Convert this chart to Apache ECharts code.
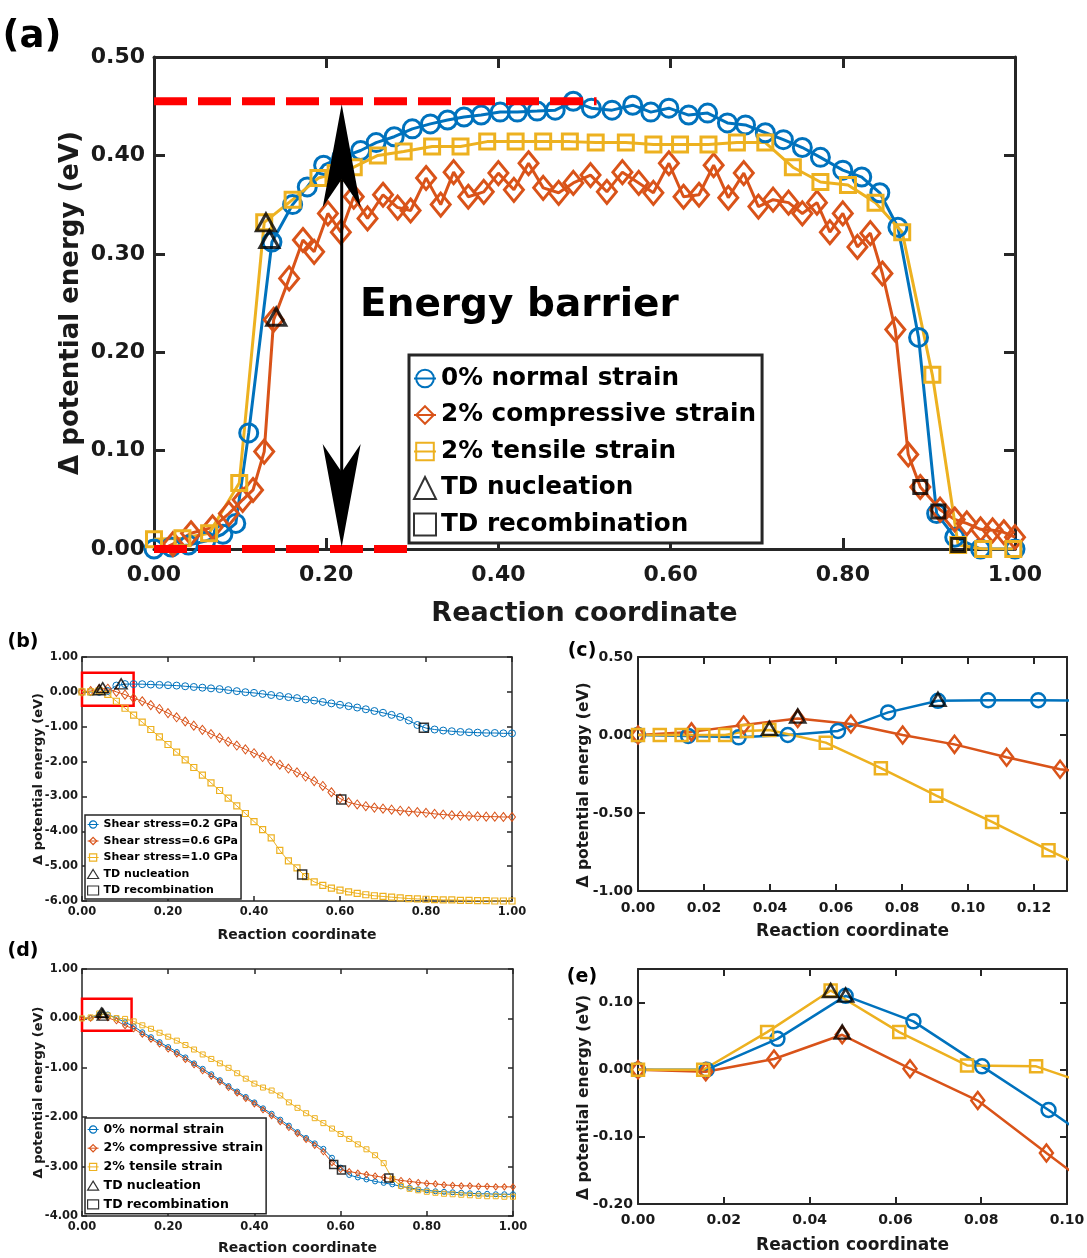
<!DOCTYPE html>
<html>
<head>
<meta charset="utf-8">
<script src="https://cdn.jsdelivr.net/npm/echarts@6/dist/echarts.min.js"></script>
<style>
  html, body { margin: 0; padding: 0; background: #fff; }
  #chart { width: 1087px; height: 1258px; }
</style>
</head>
<body>
<div id="chart"></div>
<script>
// ===== panel (a): energy path under normal strain =====
const aNormal = [[0,0],[0.02,0.002],[0.04,0.004],[0.06,0.008],[0.08,0.015],[0.095,0.026],[0.110,0.118],[0.137,0.312],[0.161,0.350],[0.178,0.368],[0.197,0.390],[0.218,0.398],[0.240,0.405],[0.258,0.413],[0.279,0.419],[0.300,0.427],[0.321,0.432],[0.341,0.436],[0.360,0.439],[0.380,0.441],[0.402,0.444],[0.422,0.444],[0.445,0.445],[0.466,0.446],[0.487,0.455],[0.508,0.448],[0.532,0.446],[0.556,0.451],[0.577,0.444],[0.598,0.448],[0.621,0.441],[0.643,0.443],[0.666,0.433],[0.687,0.431],[0.710,0.423],[0.731,0.416],[0.753,0.408],[0.774,0.398],[0.800,0.385],[0.822,0.378],[0.843,0.362],[0.864,0.327],[0.888,0.215],[0.909,0.036],[0.930,0.012],[0.960,0.0],[1.0,0.0]];
const aCompressive = [[0,-0.004],[0.022,0.005],[0.043,0.016],[0.068,0.022],[0.087,0.036],[0.103,0.05],[0.115,0.06],[0.128,0.099],[0.139,0.233],[0.157,0.275],[0.173,0.314],[0.186,0.302],[0.202,0.341],[0.217,0.322],[0.232,0.358],[0.248,0.336],[0.266,0.36],[0.283,0.347],[0.298,0.344],[0.316,0.377],[0.333,0.35],[0.348,0.383],[0.365,0.358],[0.383,0.363],[0.40,0.382],[0.418,0.365],[0.435,0.392],[0.452,0.367],[0.470,0.362],[0.487,0.372],[0.507,0.38],[0.526,0.363],[0.544,0.383],[0.563,0.372],[0.580,0.362],[0.598,0.392],[0.615,0.358],[0.633,0.36],[0.650,0.39],[0.667,0.357],[0.685,0.382],[0.702,0.348],[0.719,0.355],[0.737,0.352],[0.753,0.341],[0.770,0.352],[0.785,0.322],[0.800,0.341],[0.817,0.307],[0.832,0.321],[0.846,0.280],[0.861,0.223],[0.876,0.096],[0.890,0.063],[0.913,0.040],[0.930,0.030],[0.944,0.026],[0.960,0.020],[0.974,0.019],[0.987,0.017],[1.0,0.012]];
const aTensile = [[0,0.010],[0.033,0.011],[0.064,0.016],[0.099,0.067],[0.128,0.332],[0.161,0.355],[0.191,0.377],[0.211,0.382],[0.232,0.388],[0.260,0.400],[0.290,0.404],[0.323,0.409],[0.356,0.409],[0.387,0.414],[0.420,0.414],[0.452,0.414],[0.483,0.414],[0.513,0.413],[0.548,0.413],[0.580,0.411],[0.611,0.411],[0.644,0.411],[0.677,0.413],[0.710,0.413],[0.742,0.388],[0.774,0.373],[0.806,0.370],[0.838,0.352],[0.869,0.322],[0.904,0.177],[0.934,0.004],[0.963,0.0],[0.998,0.0]];
const aNucleation = [[0.130,0.332],[0.134,0.315],[0.142,0.236]];
const aRecombination = [[0.890,0.063],[0.911,0.038],[0.934,0.004]];
const aBarrierTop = [[0,0.455],[0.514,0.455]];
const aBarrierBottom = [[0,0],[0.295,0]];
const aArrow = [[0.218, 0.452, 0.002]];

// ===== panels (b) and (d): full path, sampled every 0.02 =====
const stepX = [0,0.02,0.04,0.06,0.08,0.1,0.12,0.14,0.16,0.18,0.2,0.22,0.24,0.26,0.28,0.3,0.32,0.34,0.36,0.38,0.4,0.42,0.44,0.46,0.48,0.5,0.52,0.54,0.56,0.58,0.6,0.62,0.64,0.66,0.68,0.7,0.72,0.74,0.76,0.78,0.8,0.82,0.84,0.86,0.88,0.9,0.92,0.94,0.96,0.98,1];
const bShear02 = [0,-0.005,0,0.025,0.18,0.222,0.223,0.22,0.21,0.2,0.19,0.18,0.16,0.14,0.12,0.1,0.08,0.05,0.02,-0.01,-0.03,-0.06,-0.09,-0.12,-0.15,-0.18,-0.22,-0.25,-0.29,-0.33,-0.37,-0.41,-0.45,-0.5,-0.55,-0.6,-0.66,-0.72,-0.82,-0.95,-1.04,-1.08,-1.11,-1.13,-1.15,-1.16,-1.17,-1.18,-1.18,-1.19,-1.19];
const bShear06 = [0,0.025,0.08,0.09,0,-0.08,-0.18,-0.27,-0.38,-0.49,-0.61,-0.73,-0.85,-0.97,-1.09,-1.21,-1.32,-1.43,-1.54,-1.65,-1.76,-1.87,-1.98,-2.09,-2.2,-2.31,-2.43,-2.56,-2.7,-2.88,-3.06,-3.17,-3.23,-3.28,-3.32,-3.35,-3.38,-3.41,-3.43,-3.45,-3.47,-3.5,-3.52,-3.54,-3.55,-3.56,-3.57,-3.58,-3.58,-3.59,-3.59];
const bShear10 = [0,0,0.03,-0.07,-0.27,-0.47,-0.67,-0.87,-1.08,-1.29,-1.51,-1.73,-1.95,-2.17,-2.39,-2.61,-2.83,-3.05,-3.27,-3.49,-3.72,-3.95,-4.19,-4.55,-4.85,-5.05,-5.3,-5.45,-5.55,-5.63,-5.69,-5.74,-5.78,-5.82,-5.85,-5.87,-5.89,-5.91,-5.93,-5.94,-5.95,-5.96,-5.97,-5.97,-5.98,-5.98,-5.99,-5.99,-6,-6,-6];
const bNucleation = [[0.040,0.06],[0.048,0.12],[0.091,0.23]];
const bRecombination = [[0.795,-1.03],[0.603,-3.09],[0.512,-5.24]];
const bZoomBox = [[0, 0.55], [0.12, -0.4]];

const dNormal = [0,0.01,0.08,0.08,0.005,-0.08,-0.16,-0.28,-0.38,-0.48,-0.58,-0.68,-0.79,-0.91,-1.02,-1.13,-1.25,-1.37,-1.48,-1.59,-1.7,-1.82,-1.93,-2.05,-2.17,-2.3,-2.42,-2.53,-2.64,-2.82,-3.02,-3.17,-3.22,-3.26,-3.3,-3.33,-3.36,-3.4,-3.43,-3.46,-3.48,-3.5,-3.51,-3.52,-3.53,-3.54,-3.55,-3.55,-3.56,-3.56,-3.56];
const dCompressive = [0,0.005,0.035,0.012,-0.048,-0.147,-0.21,-0.32,-0.42,-0.52,-0.62,-0.72,-0.83,-0.94,-1.06,-1.17,-1.28,-1.4,-1.51,-1.62,-1.73,-1.85,-1.97,-2.09,-2.21,-2.33,-2.45,-2.57,-2.7,-2.92,-3.06,-3.1,-3.13,-3.16,-3.19,-3.22,-3.25,-3.28,-3.3,-3.32,-3.34,-3.35,-3.37,-3.38,-3.39,-3.39,-3.4,-3.4,-3.41,-3.41,-3.41];
const dTensile = [0,0.02,0.1,0.06,0.006,-0.01,-0.06,-0.14,-0.21,-0.29,-0.37,-0.45,-0.54,-0.63,-0.73,-0.82,-0.91,-1,-1.11,-1.22,-1.32,-1.4,-1.46,-1.56,-1.7,-1.81,-1.92,-2.02,-2.12,-2.23,-2.34,-2.44,-2.55,-2.65,-2.77,-2.93,-3.25,-3.39,-3.45,-3.48,-3.51,-3.53,-3.55,-3.56,-3.57,-3.58,-3.59,-3.6,-3.6,-3.61,-3.61];
const dNucleation = [[0.045,0.12],[0.048,0.11],[0.048,0.055]];
const dRecombination = [[0.584,-2.96],[0.602,-3.07],[0.712,-3.23]];
const dZoomBox = [[0, 0.4], [0.115, -0.25]];

// ===== panel (c): zoom of (b) =====
const cShear02 = [[0,0],[0.0152,-0.006],[0.0305,-0.015],[0.0454,0],[0.0606,0.026],[0.0758,0.145],[0.0909,0.219],[0.1061,0.223],[0.1213,0.223],[0.1364,0.219]];
const cShear06 = [[0,0],[0.0162,0.02],[0.032,0.064],[0.0484,0.106],[0.0645,0.07],[0.0802,0.0],[0.0959,-0.06],[0.1117,-0.143],[0.1279,-0.219],[0.1437,-0.26]];
const cShear10 = [[0,0],[0.0066,0],[0.0132,0],[0.0198,0],[0.0264,0],[0.033,0.026],[0.0398,0.032],[0.0569,-0.049],[0.0736,-0.213],[0.0904,-0.389],[0.1073,-0.557],[0.1244,-0.738],[0.1415,-0.91]];
const cNucleation = [[0.0398,0.043],[0.0484,0.121],[0.0909,0.228]];
const cTicksX = [0,0.02,0.04,0.06,0.08,0.1,0.12];

// ===== panel (e): zoom of (d) =====
const eNormal = [[0,0],[0.016,0],[0.0325,0.046],[0.0484,0.110],[0.0642,0.072],[0.0802,0.005],[0.0957,-0.060],[0.1115,-0.13]];
const eCompressive = [[0,0],[0.0158,-0.003],[0.0317,0.016],[0.0476,0.052],[0.0634,0.0015],[0.0792,-0.046],[0.0952,-0.124],[0.111,-0.2]];
const eTensile = [[0,0],[0.0152,0],[0.0301,0.056],[0.0449,0.118],[0.0609,0.056],[0.0767,0.0064],[0.0928,0.005],[0.109,-0.03]];
const eNucleation = [[0.0449,0.118],[0.0484,0.111],[0.0476,0.056]];
const eTicksY = [-0.2,-0.1,0,0.1];

const FONT = "DejaVu Sans";
const BLUE = "#0072BD", ORANGE = "#D95319", YELLOW = "#EDB120";
const INK = "#262626";
const NONE = "rgba(0,0,0,0)";
const YNAME = "Δ potential energy (eV)";
const XNAME = "Reaction coordinate";

const zip = (xs, ys) => ys.map((y, i) => [xs[i], y]);

const grids = [
  { left: 154, top: 57, width: 861, height: 492 },  // a
  { left: 82, top: 657, width: 430, height: 244 },  // b
  { left: 638, top: 657, width: 429, height: 234 }, // c
  { left: 82, top: 969, width: 431, height: 247 },  // d
  { left: 638, top: 969, width: 429, height: 235 }, // e
].map((g) => ({ ...g, outerBoundsMode: "none" }));

// main axis (labels, name) plus a mirror on the far side with inward ticks only
function axes(dim, grid, s) {
  const list = [];
  [true, false].forEach((main) => {
    const ax = {
      type: "value",
      gridIndex: grid,
      min: s.min,
      max: s.max,
      position: dim === "x" ? (main ? "bottom" : "top") : (main ? "left" : "right"),
      axisLine: { onZero: false, lineStyle: { color: INK, width: s.lw } },
      axisTick: { inside: true, length: s.tick, lineStyle: { color: INK, width: s.lw } },
      axisLabel: { show: main, margin: s.margin, fontSize: s.fs, fontWeight: "bold", fontFamily: FONT, color: "#1a1a1a", formatter: (v) => v.toFixed(2) },
      splitLine: { show: false },
    };
    if (s.interval) ax.interval = s.interval;
    if (s.ticks) {
      ax.axisTick.customValues = s.ticks;
      ax.axisLabel.customValues = s.ticks;
    }
    if (main) {
      ax.name = dim === "x" ? XNAME : YNAME;
      ax.nameLocation = "middle";
      ax.nameGap = s.nameGap;
      ax.nameRotate = dim === "y" ? 90 : 0;
      ax.nameMoveOverlap = false;
      ax.nameTextStyle = { fontSize: s.nameFs, fontWeight: "bold", fontFamily: FONT, color: "#1a1a1a", padding: s.namePad || 0 };
    }
    list.push(ax);
  });
  return list;
}

const xAxis = [
  ...axes("x", 0, { min: 0, max: 1, interval: 0.2, lw: 3, tick: 11, fs: 22, margin: 15, nameFs: 27, nameGap: 51 }),
  ...axes("x", 1, { min: 0, max: 1, interval: 0.2, lw: 1.5, tick: 5, fs: 11.5, margin: 5, nameFs: 14, nameGap: 27 }),
  ...axes("x", 2, { min: 0, max: 0.13, ticks: cTicksX, lw: 2, tick: 7, fs: 14, margin: 10, nameFs: 17, nameGap: 32 }),
  ...axes("x", 3, { min: 0, max: 1, interval: 0.2, lw: 1.5, tick: 5, fs: 11.5, margin: 5, nameFs: 14, nameGap: 25 }),
  ...axes("x", 4, { min: 0, max: 0.1, interval: 0.02, lw: 2, tick: 7, fs: 14, margin: 9, nameFs: 17, nameGap: 33 }),
];
const yAxis = [
  ...axes("y", 0, { min: 0, max: 0.5, interval: 0.1, lw: 3, tick: 11, fs: 22, margin: 9, nameFs: 26, nameGap: 70 }),
  ...axes("y", 1, { min: -6, max: 1, interval: 1, lw: 1.5, tick: 5, fs: 11.5, margin: 4, nameFs: 13, nameGap: 37 }),
  ...axes("y", 2, { min: -1, max: 0.5, interval: 0.5, lw: 2, tick: 7, fs: 14, margin: 5, nameFs: 15.5, nameGap: 46, namePad: [0, 22, 0, 0] }),
  ...axes("y", 3, { min: -4, max: 1, interval: 1, lw: 1.5, tick: 5, fs: 11.5, margin: 4, nameFs: 13, nameGap: 37 }),
  ...axes("y", 4, { min: -0.2, max: 0.15, ticks: eTicksY, lw: 2, tick: 7, fs: 14, margin: 5, nameFs: 15.5, nameGap: 46, namePad: [0, 22, 0, 0] }),
];

function curve(name, data, grid, color, symbol, size, lw, bw) {
  return {
    type: "line", name, data, xAxisIndex: grid * 2, yAxisIndex: grid * 2,
    symbol, symbolSize: size, showAllSymbol: true, clip: true, z: 3,
    lineStyle: { color, width: lw },
    itemStyle: { color: NONE, borderColor: color, borderWidth: bw },
    emphasis: { disabled: true }, silent: true,
  };
}
function marks(name, data, grid, symbol, size, bw) {
  return {
    type: "scatter", name, data, xAxisIndex: grid * 2, yAxisIndex: grid * 2,
    symbol, symbolSize: size, z: 5, silent: true,
    itemStyle: { color: NONE, borderColor: "#000", borderWidth: bw },
    emphasis: { disabled: true },
  };
}
function zoomBox(box) {
  return {
    silent: true,
    itemStyle: { color: NONE, borderColor: "#FF0000", borderWidth: 2.5 },
    label: { show: false },
    data: [[{ coord: box[0] }, { coord: box[1] }]],
  };
}
function dashed(data) {
  return {
    type: "line", data, xAxisIndex: 0, yAxisIndex: 0, symbol: "none", clip: false, z: 6, silent: true,
    lineStyle: { color: "#FF0000", width: 8, type: [33, 11] },
  };
}

// double-headed arrow for the barrier height
function renderArrow(params, api) {
  const top = api.coord([api.value(0), api.value(1)]);
  const bot = api.coord([api.value(0), api.value(2)]);
  const x = top[0], hw = 19, hh = 103, notch = 75;
  return {
    type: "group",
    children: [
      { type: "line", shape: { x1: x, y1: top[1] + notch, x2: x, y2: bot[1] - notch }, style: { stroke: "#000", lineWidth: 3 } },
      { type: "polygon", shape: { points: [[x, top[1]], [x + hw, top[1] + hh], [x, top[1] + notch], [x - hw, top[1] + hh]] }, style: { fill: "#000" } },
      { type: "polygon", shape: { points: [[x, bot[1]], [x + hw, bot[1] - hh], [x, bot[1] - notch], [x - hw, bot[1] - hh]] }, style: { fill: "#000" } },
    ],
  };
}

const N0 = "0% normal strain", C2 = "2% compressive strain", T2 = "2% tensile strain";
const S02 = "Shear stress=0.2 GPa", S06 = "Shear stress=0.6 GPa", S10 = "Shear stress=1.0 GPa";
const NUC = "TD nucleation", REC = "TD recombination";

const bNucMarks = marks(NUC, bNucleation, 1, "triangle", [12, 10], 1.5);
bNucMarks.markArea = zoomBox(bZoomBox);
const dNucMarks = marks(NUC, dNucleation, 3, "triangle", [11, 9], 1.5);
dNucMarks.markArea = zoomBox(dZoomBox);

const series = [
  // (a)
  curve(N0, aNormal, 0, BLUE, "circle", 18, 3, 3),
  curve(C2, aCompressive, 0, ORANGE, "diamond", [19, 23], 3, 3),
  curve(T2, aTensile, 0, YELLOW, "rect", 15, 3, 3),
  marks(NUC, aNucleation, 0, "triangle", [19, 17], 3),
  marks(REC, aRecombination, 0, "rect", 13, 3),
  dashed(aBarrierTop),
  dashed(aBarrierBottom),
  { type: "custom", xAxisIndex: 0, yAxisIndex: 0, data: aArrow, encode: { x: 0, y: [1, 2] }, renderItem: renderArrow, z: 7, silent: true },
  // (b)
  curve(S02, zip(stepX, bShear02), 1, BLUE, "circle", 7, 1, 1),
  curve(S06, zip(stepX, bShear06), 1, ORANGE, "diamond", [7, 9], 1, 1),
  curve(S10, zip(stepX, bShear10), 1, YELLOW, "rect", 6, 1, 1.2),
  bNucMarks,
  marks(REC, bRecombination, 1, "rect", 9, 1.5),
  // (c)
  curve(S02, cShear02, 2, BLUE, "circle", 14, 2.5, 2.5),
  curve(S06, cShear06, 2, ORANGE, "diamond", [13, 17], 2.5, 2.5),
  curve(S10, cShear10, 2, YELLOW, "rect", 12, 2.5, 2.5),
  marks(NUC, cNucleation, 2, "triangle", [15, 13], 2.5),
  // (d)
  curve(N0, zip(stepX, dNormal), 3, BLUE, "circle", 5, 1, 1),
  curve(C2, zip(stepX, dCompressive), 3, ORANGE, "diamond", [5, 6], 1, 1),
  curve(T2, zip(stepX, dTensile), 3, YELLOW, "rect", 5, 1, 1),
  dNucMarks,
  marks(REC, dRecombination, 3, "rect", 8, 1.5),
  // (e)
  curve(N0, eNormal, 4, BLUE, "circle", 14, 2.5, 2.5),
  curve(C2, eCompressive, 4, ORANGE, "diamond", [13, 17], 2.5, 2.5),
  curve(T2, eTensile, 4, YELLOW, "rect", 12, 2.5, 2.5),
  marks(NUC, eNucleation, 4, "triangle", [15, 13], 2.5),
];

const legendText = (fs) => ({ fontSize: fs, fontWeight: "bold", fontFamily: FONT, color: "#000" });
const legend = [
  {
    left: 409, top: 355, orient: "vertical", z: 10, selectedMode: false,
    data: [N0, C2, T2, NUC, REC],
    itemWidth: 22, itemHeight: 22, itemGap: 11.5, padding: [11, 6, 6, 4],
    borderColor: INK, borderWidth: 3, backgroundColor: "#fff",
    textStyle: legendText(24.7),
  },
  {
    left: 85, top: 815, orient: "vertical", z: 10, selectedMode: false,
    data: [S02, S06, S10, NUC, REC],
    itemWidth: 11, itemHeight: 9, itemGap: 5.5, padding: [4, 3, 3, 2],
    borderColor: INK, borderWidth: 1.5, backgroundColor: "#fff",
    itemStyle: { borderWidth: 1.2 }, lineStyle: { width: 1 },
    textStyle: legendText(11),
  },
  {
    left: 85, top: 1118, orient: "vertical", z: 10, selectedMode: false,
    data: [N0, C2, T2, NUC, REC],
    itemWidth: 11, itemHeight: 9, itemGap: 5.7, padding: [5, 3, 3, 2],
    borderColor: INK, borderWidth: 1.5, backgroundColor: "#fff",
    itemStyle: { borderWidth: 1.2 }, lineStyle: { width: 1 },
    textStyle: legendText(12.5),
  },
];

const label = (text, x, y, size) => ({
  type: "text", x, y, z: 20,
  style: { text, font: "bold " + size + "px '" + FONT + "'", fill: "#000", align: "center", verticalAlign: "middle" },
});
const graphic = [
  label("(a)", 32, 37, 37),
  label("(b)", 23, 642, 19),
  label("(c)", 582, 651, 19),
  label("(d)", 23, 951, 19),
  label("(e)", 582, 977, 19),
  { type: "text", x: 360, y: 306, z: 20, style: { text: "Energy barrier", font: "bold 39px '" + FONT + "'", fill: "#000", verticalAlign: "middle" } },
];

const chart = echarts.init(document.getElementById("chart"));
chart.setOption({
  animation: false,
  backgroundColor: "#fff",
  textStyle: { fontFamily: FONT },
  grid: grids,
  xAxis,
  yAxis,
  legend,
  graphic,
  series,
});
</script>
</body>
</html>
